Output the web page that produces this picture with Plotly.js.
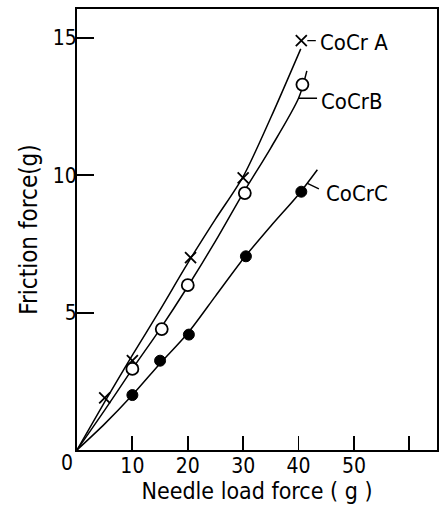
<!DOCTYPE html>
<html>
<head>
<meta charset="utf-8">
<script src="https://cdn.plot.ly/plotly-3.0.1.min.js"></script>
<style>html,body{margin:0;padding:0;background:#fff;}#chart{width:441px;height:507px;}</style>
</head>
<body>
<div id="chart"></div>
<script>
// Measured points
const aX = [5, 10, 20.5, 30, 40.5];
const aY = [1.9, 3.25, 7.0, 9.9, 14.9];
const bX = [10, 15.3, 20, 30.3, 40.7];
const bY = [2.95, 4.4, 6.0, 9.35, 13.3];
const cX = [10, 15, 20.2, 30.5, 40.5];
const cY = [2.0, 3.25, 4.2, 7.05, 9.4];
// Hand-drawn fitted curves
const aCurveX = [0, 5, 10, 15, 20, 25, 30, 35, 40.4];
const aCurveY = [0, 1.75, 3.45, 5.1, 6.8, 8.4, 9.95, 12.1, 14.6];
const bCurveX = [0, 5, 10, 15, 20, 25, 30, 35, 40, 41.5];
const bCurveY = [0, 1.45, 2.95, 4.4, 5.95, 7.6, 9.35, 11.0, 12.8, 13.8];
const cCurveX = [0, 5, 10, 15, 20, 25, 30, 35, 40, 43.4];
const cCurveY = [0, 0.95, 2.0, 3.15, 4.25, 5.6, 6.95, 8.15, 9.3, 10.2];
const seriesNames = ['CoCr A', 'CoCrB', 'CoCrC'];
const xTickVals = [10, 20, 30, 40, 50, 60];
const xTickText = ['10', '20', '30', '40', '50', ''];
const yTickVals = [5, 10, 15];
const yTickText = ['5', '10', '15'];

const FONT = '"DejaVu Sans Condensed", "Liberation Sans Narrow", Arial, sans-serif';
const lineStyle = {color: '#000', width: 1.5, shape: 'spline', smoothing: 0.8};

const traces = [
  {x: aCurveX, y: aCurveY, mode: 'lines', line: lineStyle, hoverinfo: 'skip', showlegend: false},
  {x: bCurveX, y: bCurveY, mode: 'lines', line: lineStyle, hoverinfo: 'skip', showlegend: false},
  {x: cCurveX, y: cCurveY, mode: 'lines', line: lineStyle, hoverinfo: 'skip', showlegend: false},
  {x: aX, y: aY, mode: 'markers', name: seriesNames[0],
   marker: {symbol: 'x-thin-open', size: 11, color: '#000', line: {color: '#000', width: 1.8}}},
  {x: bX, y: bY, mode: 'markers', name: seriesNames[1],
   marker: {symbol: 'circle', size: 12, color: '#fff', line: {color: '#000', width: 1.8}}},
  {x: cX, y: cY, mode: 'markers', name: seriesNames[2],
   marker: {symbol: 'circle', size: 11, color: '#000', line: {color: '#000', width: 1}}}
];

const annText = {family: FONT, size: 22, color: '#000'};
const tickFont = {family: FONT, size: 21, color: '#000'};
const layout = {
  width: 441, height: 507,
  margin: {l: 77, r: 4, t: 9, b: 57, pad: 0},
  paper_bgcolor: '#fff', plot_bgcolor: '#fff',
  showlegend: false,
  font: {family: FONT, size: 21, color: '#000'},
  xaxis: {
    range: [0, 65], tickvals: xTickVals, ticktext: xTickText,
    ticks: 'inside', ticklen: 14, tickwidth: 1.8, tickcolor: '#000',
    showline: true, linecolor: '#000', linewidth: 2, mirror: true,
    showgrid: false, zeroline: false, ticklabelstandoff: -4,
    tickfont: tickFont,
    title: {text: 'Needle load force ( g )', font: {family: FONT, size: 23, color: '#000'}, standoff: 4}
  },
  yaxis: {
    range: [0, 16.05], tickvals: yTickVals, ticktext: yTickText,
    ticks: 'inside', ticklen: 17, tickwidth: 1.8, tickcolor: '#000',
    showline: true, linecolor: '#000', linewidth: 2, mirror: true,
    showgrid: false, zeroline: false, ticklabelstandoff: -6,
    tickfont: tickFont,
    title: {text: 'Friction force(g)', font: {family: FONT, size: 24, color: '#000'}, standoff: 8}
  },
  annotations: [
    {x: 0, y: 0, text: '0', showarrow: false, xanchor: 'right', yanchor: 'top', xshift: -2, yshift: 1, font: tickFont},
    {x: aX[4], y: aY[4], text: '', showarrow: true, arrowhead: 0, arrowwidth: 1.4, arrowcolor: '#000', ax: 16, ay: 0, standoff: 6},
    {x: aX[4], y: aY[4], text: seriesNames[0], showarrow: false, xanchor: 'left', yanchor: 'middle', xshift: 17, yshift: -2, font: annText},
    {x: bCurveX[8], y: bCurveY[8], text: '', showarrow: true, arrowhead: 0, arrowwidth: 1.4, arrowcolor: '#000', ax: 20, ay: 0, standoff: 0},
    {x: bCurveX[8], y: bCurveY[8], text: seriesNames[1], showarrow: false, xanchor: 'left', yanchor: 'middle', xshift: 20, yshift: -3, font: annText},
    {x: 41.6, y: 9.7, text: '', showarrow: true, arrowhead: 0, arrowwidth: 1.4, arrowcolor: '#000', ax: 13, ay: 6, standoff: 0},
    {x: 41.6, y: 9.7, text: seriesNames[2], showarrow: false, xanchor: 'left', yanchor: 'middle', xshift: 17, yshift: -10, font: annText}
  ]
};

Plotly.newPlot('chart', traces, layout, {displayModeBar: false, staticPlot: true});
</script>
</body>
</html>
